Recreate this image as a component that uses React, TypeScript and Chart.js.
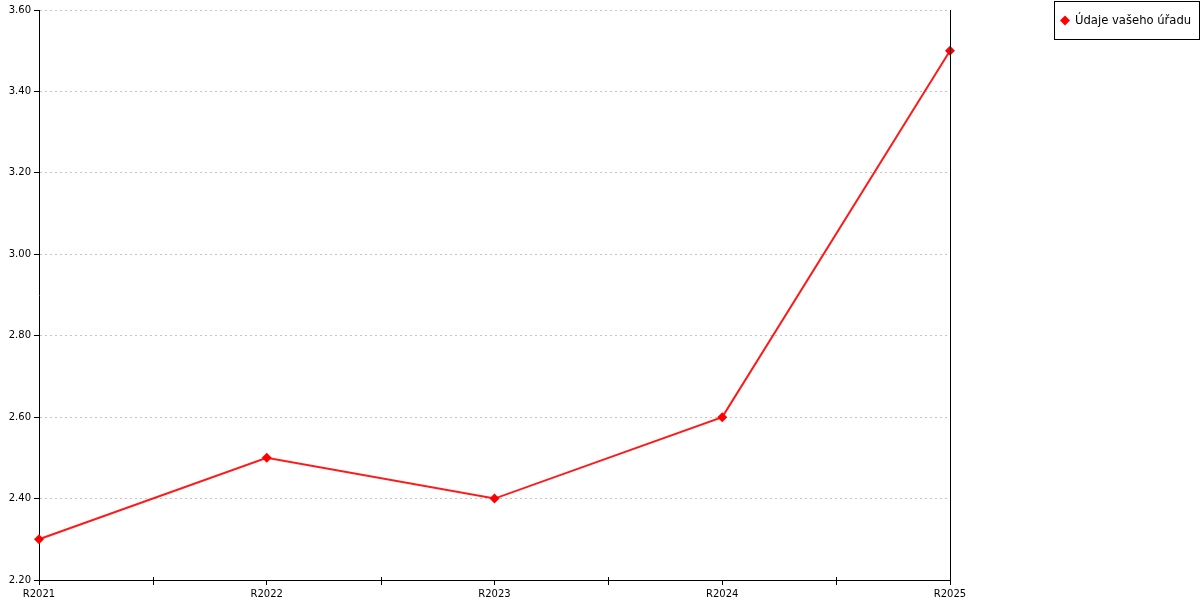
import React, { useEffect, useRef } from "react";
import { Chart, registerables } from "chart.js";

Chart.register(...registerables);

const categories = ["R2021", "R2022", "R2023", "R2024", "R2025"];
const seriesLabel = "Údaje vašeho úřadu";
const seriesValues = [2.3, 2.5, 2.4, 2.6, 3.5];
const yMin = 2.2;
const yMax = 3.6;
const yStep = 0.2;

const FONT = "'DejaVu Sans', Verdana, sans-serif";

const decorPlugin = {
  id: "decor",
  afterDraw(chart: any) {
    const { ctx, chartArea } = chart;
    const xs = chart.scales.x;
    ctx.save();
    // right border
    ctx.strokeStyle = "#000";
    ctx.lineWidth = 1;
    const rx = Math.round(chartArea.right) + 0.5;
    ctx.beginPath();
    ctx.moveTo(rx, chartArea.top);
    ctx.lineTo(rx, chartArea.bottom);
    ctx.stroke();
    // mid ticks between categories
    const by = Math.round(chartArea.bottom);
    for (let i = 0; i < categories.length - 1; i++) {
      const mx = Math.round((xs.getPixelForValue(i) + xs.getPixelForValue(i + 1)) / 2) + 0.5;
      ctx.beginPath();
      ctx.moveTo(mx, by - 3);
      ctx.lineTo(mx, by + 5);
      ctx.stroke();
    }
    // legend box
    ctx.font = `11.6px ${FONT}`;
    const label = chart.data.datasets[0].label;
    const tw = ctx.measureText(label).width;
    const boxW = Math.round(21 + tw + 8);
    const boxR = chart.width - 1;
    const boxL = boxR - boxW;
    const boxT = 1;
    const boxH = 38;
    ctx.fillStyle = "#fff";
    ctx.fillRect(boxL, boxT, boxW, boxH);
    ctx.strokeStyle = "#000";
    ctx.strokeRect(boxL + 0.5, boxT + 0.5, boxW, boxH);
    const cy = boxT + boxH / 2 + 0.5;
    const cx = boxL + 11;
    ctx.fillStyle = "red";
    ctx.beginPath();
    ctx.moveTo(cx, cy - 5);
    ctx.lineTo(cx + 5, cy);
    ctx.lineTo(cx, cy + 5);
    ctx.lineTo(cx - 5, cy);
    ctx.closePath();
    ctx.fill();
    ctx.fillStyle = "#000";
    ctx.textBaseline = "middle";
    ctx.textAlign = "left";
    ctx.fillText(label, boxL + 21, cy);
    ctx.restore();
  },
};

export default function App() {
  const ref = useRef<HTMLCanvasElement | null>(null);
  useEffect(() => {
    if (!ref.current) return;
    const chart = new Chart(ref.current, {
      type: "line",
      data: {
        labels: categories,
        datasets: [
          {
            label: seriesLabel,
            data: seriesValues,
            borderColor: "#ff1a1a",
            backgroundColor: "red",
            borderWidth: 2,
            pointStyle: "rectRot",
            pointRadius: 5,
            pointBackgroundColor: "red",
            pointBorderColor: "red",
            pointBorderWidth: 0,
            tension: 0,
            fill: false,
          },
        ],
      },
      options: {
        animation: false,
        responsive: false,
        maintainAspectRatio: false,
        devicePixelRatio: 1,
        layout: { padding: { top: 10, right: 250, left: 0, bottom: 0 } },
        plugins: {
          legend: { display: false },
          tooltip: { enabled: false },
        },
        scales: {
          x: {
            type: "category",
            offset: false,
            grid: {
              display: true,
              drawOnChartArea: false,
              drawTicks: true,
              tickLength: 5,
              color: "#000",
              tickColor: "#000",
            },
            border: { display: true, color: "#000", width: 1 },
            ticks: {
              color: "#000",
              font: { family: FONT, size: 10 },
              padding: 3,
              maxRotation: 0,
              autoSkip: false,
            },
            afterFit(scale: any) {
              scale.height = 20;
            },
          },
          y: {
            min: yMin,
            max: yMax,
            grid: {
              display: true,
              color: "#c4c4c4",
              drawTicks: true,
              tickLength: 5,
              tickColor: "#000",
              tickBorderDash: [],
            },
            border: { display: true, color: "#000", width: 1, dash: [2, 3] },
            ticks: {
              stepSize: yStep,
              color: "#000",
              font: { family: FONT, size: 10 },
              padding: 3,
              callback: (v: any) => Number(v).toFixed(2),
            },
            afterFit(scale: any) {
              scale.width = 39;
            },
          },
        },
      },
      plugins: [decorPlugin],
    } as any);
    return () => chart.destroy();
  }, []);
  return (
    <div style={{ position: "fixed", left: 0, top: 0, width: 1200, height: 600, background: "#fff" }}>
      <canvas ref={ref} width={1200} height={600} style={{ width: 1200, height: 600, display: "block" }} />
    </div>
  );
}
